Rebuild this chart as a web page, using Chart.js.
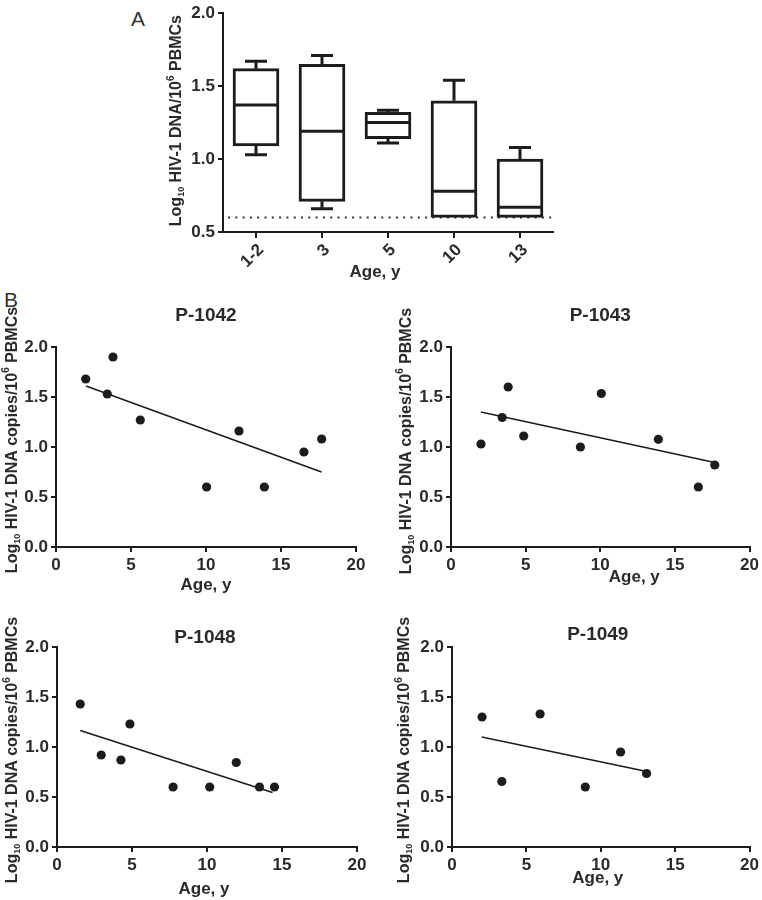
<!DOCTYPE html>
<html>
<head>
<meta charset="utf-8">
<title>HIV-1 DNA by age</title>
<script src="https://cdn.jsdelivr.net/npm/chart.js@4"></script>
<style>
    body { margin: 0; background: #fff; }
    #figure { position: relative; width: 762px; height: 900px; background: #fff; }
    .chart-box { position: absolute; }
    .panel-letter { position: absolute; font: 21px/21px "Liberation Sans", Arial, sans-serif; color: #333; }
</style>
</head>
<body>
<div id="figure">
    <div class="panel-letter" style="left:131px;top:8px">A</div>
    <div class="panel-letter" style="left:4px;top:289px">B</div>
    <canvas id="panelA" class="chart-box" width="470" height="300" style="left:100px;top:0px"></canvas>
    <canvas id="p1042" class="chart-box" width="380" height="310" style="left:0px;top:290px"></canvas>
    <canvas id="p1043" class="chart-box" width="382" height="310" style="left:380px;top:290px"></canvas>
    <canvas id="p1048" class="chart-box" width="380" height="300" style="left:0px;top:600px"></canvas>
    <canvas id="p1049" class="chart-box" width="382" height="300" style="left:380px;top:600px"></canvas>
</div>
<script>
"use strict"

// Panel A: HIV-1 DNA by age group (box plots)
const ageGroups = ['1-2', '3', '5', '10', '13'];
const groupMin = [1.03, 0.66, 1.11, 0.60, 0.60];
const groupQ1 = [1.09, 0.71, 1.14, 0.60, 0.60];
const groupMedian = [1.37, 1.19, 1.25, 0.78, 0.67];
const groupQ3 = [1.62, 1.65, 1.32, 1.40, 1.00];
const groupMax = [1.67, 1.71, 1.335, 1.54, 1.08];
const detectionLimit = 0.6;
const yTicksA = [0.5, 1.0, 1.5, 2.0];

// Panel B: single patients over time
const p1042Ages = [1.98, 3.42, 3.8, 5.62, 10.04, 12.2, 13.89, 16.53, 17.71];
const p1042Dna = [1.68, 1.53, 1.90, 1.27, 0.60, 1.16, 0.60, 0.95, 1.08];
const p1042FitAges = [2.0, 17.7];
const p1042FitDna = [1.61, 0.75];

const p1043Ages = [2.01, 3.43, 3.83, 4.87, 8.67, 10.07, 13.89, 16.57, 17.67];
const p1043Dna = [1.03, 1.295, 1.60, 1.11, 1.00, 1.535, 1.077, 0.60, 0.82];
const p1043FitAges = [2.0, 17.67];
const p1043FitDna = [1.35, 0.845];

const p1048Ages = [1.55, 2.95, 4.26, 4.86, 7.74, 10.18, 11.95, 13.5, 14.5];
const p1048Dna = [1.43, 0.92, 0.87, 1.23, 0.60, 0.60, 0.845, 0.60, 0.60];
const p1048FitAges = [1.55, 14.37];
const p1048FitDna = [1.165, 0.545];

const p1049Ages = [2.02, 3.35, 5.92, 8.96, 11.33, 13.08];
const p1049Dna = [1.30, 0.655, 1.33, 0.60, 0.95, 0.735];
const p1049FitAges = [2.0, 13.1];
const p1049FitDna = [1.10, 0.755];

const yTicksB = [0, 0.5, 1.0, 1.5, 2.0];
const xTicksB = [0, 5, 10, 15, 20];

// Axis titles, split so the 10 and 6 can be drawn small
const yTitleA = [['Log', ''], ['10', 'sub'], [' HIV-1 DNA/10', ''], ['6', 'sup'], [' PBMCs', '']];
const yTitleB = [['Log', ''], ['10', 'sub'], [' HIV-1 DNA copies/10', ''], ['6', 'sup'], [' PBMCs', '']];

const FontFamily = '"Liberation Sans", Arial, sans-serif';
const InkColour = '#1c1c1c';
const TextColour = '#2a2a2a';
const TickFont = { size: 17, weight: 'bold' };

Chart.defaults.font.family = FontFamily;
Chart.defaults.color = TextColour;

// Draws a line of text with sub/superscripts, rotated to run upwards
function DrawRotatedRichText(ctx, parts, x, y) {
    const fonts = { '': 'bold 16px ', 'sub': 'bold 9px ', 'sup': 'bold 10px ' };
    const shifts = { '': 0, 'sub': 5, 'sup': -6 };

    ctx.save();
    ctx.translate(x, y);
    ctx.rotate(-Math.PI / 2);
    ctx.textAlign = 'left';
    ctx.textBaseline = 'middle';

    let widths = parts.map(p => {
        ctx.font = fonts[p[1]] + FontFamily;
        return ctx.measureText(p[0]).width;
    });
    let cursor = -widths.reduce((a, b) => a + b, 0) / 2;

    parts.forEach((p, i) => {
        ctx.font = fonts[p[1]] + FontFamily;
        ctx.fillText(p[0], cursor, shifts[p[1]]);
        cursor += widths[i];
    });
    ctx.restore();
}

// Titles of each panel, placed relative to the chart area
const PanelText = {
    id: 'panelText',
    afterDraw(chart, args, opts) {
        const { ctx, chartArea } = chart;
        let midX = (chartArea.left + chartArea.right) / 2;
        let midY = (chartArea.top + chartArea.bottom) / 2;

        ctx.save();
        ctx.fillStyle = TextColour;
        ctx.textAlign = 'center';
        ctx.textBaseline = 'middle';
        if (opts.title) {
            ctx.font = 'bold 19px ' + FontFamily;
            ctx.fillText(opts.title, midX + opts.titleShift, chartArea.top - opts.titleGap);
        }
        ctx.font = 'bold 17px ' + FontFamily;
        ctx.fillText(opts.xTitle, midX + opts.xShift, chartArea.bottom + opts.xGap);

        let parts = opts.yTitle === 'A' ? yTitleA : yTitleB;
        DrawRotatedRichText(ctx, parts, opts.yTitleX, midY + opts.yShift);
        ctx.restore();
    }
};

// Median line and whiskers on top of the floating bars
const BoxWhiskers = {
    id: 'boxWhiskers',
    afterDatasetsDraw(chart) {
        const { ctx } = chart;
        const yScale = chart.scales.y;
        const capHalf = 11;
        let meta = chart.getDatasetMeta(0);

        ctx.save();
        ctx.strokeStyle = InkColour;
        ctx.lineWidth = 3;
        meta.data.forEach((bar, i) => {
            let half = bar.width / 2;
            let top = yScale.getPixelForValue(groupQ3[i]);
            let bottom = yScale.getPixelForValue(groupQ1[i]);
            let hi = yScale.getPixelForValue(groupMax[i]);
            let lo = yScale.getPixelForValue(groupMin[i]);
            let med = yScale.getPixelForValue(groupMedian[i]);

            ctx.beginPath();
            ctx.moveTo(bar.x - half, med);
            ctx.lineTo(bar.x + half, med);
            if (groupMax[i] > groupQ3[i]) {
                ctx.moveTo(bar.x, top);
                ctx.lineTo(bar.x, hi);
                ctx.moveTo(bar.x - capHalf, hi);
                ctx.lineTo(bar.x + capHalf, hi);
            }
            if (groupMin[i] < groupQ1[i]) {
                ctx.moveTo(bar.x, bottom);
                ctx.lineTo(bar.x, lo);
                ctx.moveTo(bar.x - capHalf, lo);
                ctx.lineTo(bar.x + capHalf, lo);
            }
            ctx.stroke();
        });
        ctx.restore();
    }
};

// Dotted line at the detection limit
const DetectionLimitLine = {
    id: 'detectionLimitLine',
    beforeDatasetsDraw(chart) {
        const { ctx, chartArea } = chart;
        let y = chart.scales.y.getPixelForValue(detectionLimit);

        ctx.save();
        ctx.strokeStyle = '#333';
        ctx.lineWidth = 2;
        ctx.setLineDash([2, 5.3]);
        ctx.beginPath();
        ctx.moveTo(chartArea.left + 5, y);
        ctx.lineTo(chartArea.right, y);
        ctx.stroke();
        ctx.restore();
    }
};

function AxisStyle(tickLength) {
    return {
        grid: { drawOnChartArea: false, color: InkColour, lineWidth: 2, tickLength: tickLength },
        border: { color: InkColour, width: 2 }
    };
}

function CreateBoxChart() {
    let canvas = document.getElementById('panelA');

    new Chart(canvas, {
        type: 'bar',
        data: {
            labels: ageGroups,
            datasets: [{
                data: ageGroups.map((g, i) => [groupQ1[i], groupQ3[i]]),
                backgroundColor: '#fff',
                borderColor: InkColour,
                borderWidth: 3,
                borderSkipped: false,
                barThickness: 46
            }]
        },
        options: {
            responsive: false,
            animation: false,
            layout: { padding: { top: 12, right: 17, bottom: 0, left: 0 } },
            plugins: {
                legend: { display: false },
                tooltip: { enabled: false },
                panelText: {
                    title: '', titleGap: 0, titleShift: 0,
                    xTitle: 'Age, y', xGap: 40, xShift: -13,
                    yTitle: 'A', yTitleX: 77, yShift: -2
                }
            },
            scales: {
                x: {
                    offset: true,
                    border: { color: InkColour, width: 2 },
                    grid: { offset: false, drawOnChartArea: false, color: InkColour, lineWidth: 2, tickLength: 6 },
                    ticks: { minRotation: 45, maxRotation: 45, padding: 2, labelOffset: 5, font: TickFont },
                    afterFit: (scale) => { scale.height = 68; }
                },
                y: {
                    min: 0.5,
                    max: 2.0,
                    ...AxisStyle(5),
                    afterBuildTicks: (scale) => { scale.ticks = yTicksA.map(v => ({ value: v })); },
                    ticks: { padding: 3, font: TickFont, callback: (v) => Number(v).toFixed(1) },
                    afterFit: (scale) => { scale.width = 123; }
                }
            }
        },
        plugins: [DetectionLimitLine, BoxWhiskers, PanelText]
    });
}

function CreatePatientChart(canvasId, title, ages, dna, fitAges, fitDna, place) {
    let canvas = document.getElementById(canvasId);

    new Chart(canvas, {
        type: 'scatter',
        data: {
            datasets: [
                {
                    data: ages.map((a, i) => ({ x: a, y: dna[i] })),
                    backgroundColor: InkColour,
                    borderWidth: 0,
                    pointRadius: 4.6,
                    order: 0
                },
                {
                    type: 'line',
                    data: fitAges.map((a, i) => ({ x: a, y: fitDna[i] })),
                    borderColor: InkColour,
                    borderWidth: 1.6,
                    pointRadius: 0,
                    fill: false,
                    order: 1
                }
            ]
        },
        options: {
            responsive: false,
            animation: false,
            layout: { padding: { top: place.padTop, right: place.padRight, bottom: 0, left: 0 } },
            plugins: {
                legend: { display: false },
                tooltip: { enabled: false },
                panelText: {
                    title: title, titleGap: place.titleGap, titleShift: place.titleShift,
                    xTitle: 'Age, y', xGap: place.xGap, xShift: place.xShift,
                    yTitle: 'B', yTitleX: place.yTitleX, yShift: place.yShift
                }
            },
            scales: {
                x: {
                    type: 'linear',
                    min: 0,
                    max: 20,
                    ...AxisStyle(5),
                    afterBuildTicks: (scale) => { scale.ticks = xTicksB.map(v => ({ value: v })); },
                    ticks: { maxRotation: 0, padding: 3, font: TickFont },
                    afterFit: (scale) => { scale.height = 53; }
                },
                y: {
                    min: 0,
                    max: 2.0,
                    ...AxisStyle(5),
                    afterBuildTicks: (scale) => { scale.ticks = yTicksB.map(v => ({ value: v })); },
                    ticks: { padding: 3, font: TickFont, callback: (v) => Number(v).toFixed(1) },
                    afterFit: (scale) => { scale.width = place.yAxisWidth; }
                }
            }
        },
        plugins: [PanelText]
    });
}

CreateBoxChart();

CreatePatientChart('p1042', 'P-1042', p1042Ages, p1042Dna, p1042FitAges, p1042FitDna,
    { yAxisWidth: 56, padTop: 57, padRight: 24, titleGap: 31, titleShift: 0, xGap: 38, xShift: 0, yTitleX: 12.5, yShift: -7 });
CreatePatientChart('p1043', 'P-1043', p1043Ages, p1043Dna, p1043FitAges, p1043FitDna,
    { yAxisWidth: 71, padTop: 57, padRight: 10, titleGap: 31, titleShift: 0, xGap: 30, xShift: 34, yTitleX: 26.5, yShift: -6 });
CreatePatientChart('p1048', 'P-1048', p1048Ages, p1048Dna, p1048FitAges, p1048FitDna,
    { yAxisWidth: 57, padTop: 47, padRight: 23, titleGap: 9, titleShift: -2, xGap: 42, xShift: -3, yTitleX: 13, yShift: 3 });
CreatePatientChart('p1049', 'P-1049', p1049Ages, p1049Dna, p1049FitAges, p1049FitDna,
    { yAxisWidth: 72, padTop: 47, padRight: 10, titleGap: 12, titleShift: -3, xGap: 31, xShift: -3, yTitleX: 25, yShift: 3 });
</script>
</body>
</html>
